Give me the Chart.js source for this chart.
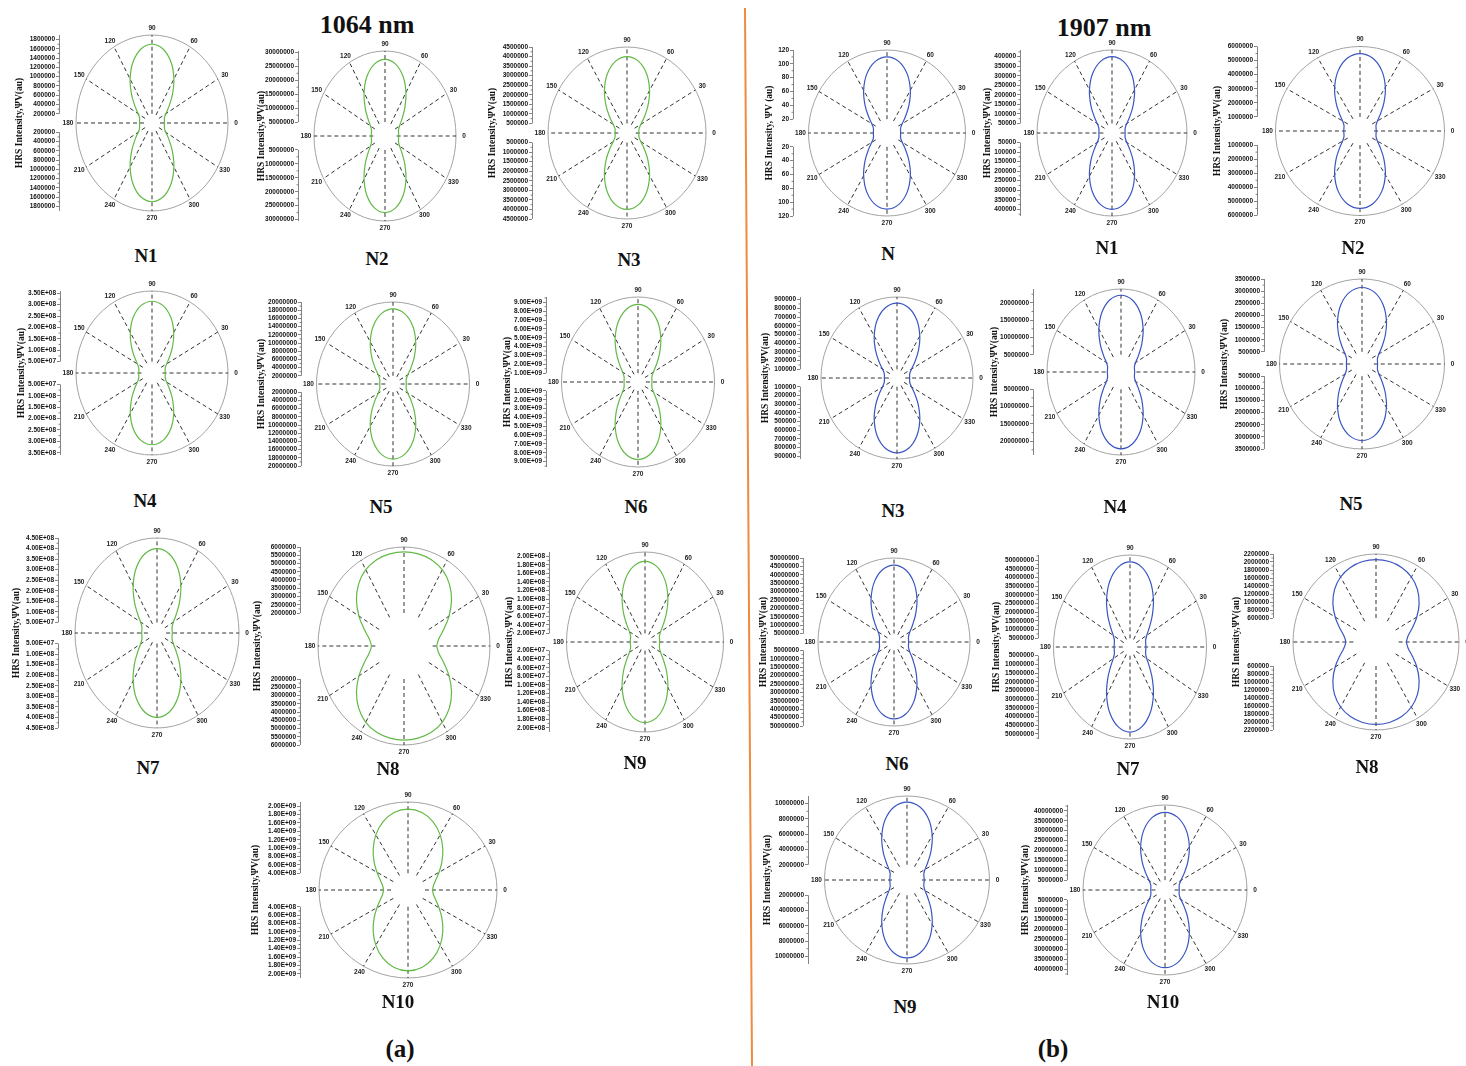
<!DOCTYPE html>
<html>
<head>
<meta charset="utf-8">
<script src="https://cdn.jsdelivr.net/npm/chart.js@4.4.1/dist/chart.umd.min.js"></script>
<style>
  html, body { margin: 0; padding: 0; background: #fff; }
  body { width: 1466px; height: 1066px; position: relative; overflow: hidden; font-family: "Liberation Serif", "Times New Roman", serif; }
  .lbl { position: absolute; transform: translate(-50%, -50%); font-weight: bold; color: #111; white-space: nowrap; line-height: 1; }
  .name { font-size: 19px; }
  .head { font-size: 26px; }
  .part { font-size: 25px; }
  svg { position: absolute; left: 0; top: 0; }
</style>
</head>
<body>
<svg width="1466" height="1066"><line x1="745" y1="8" x2="752" y2="1066" stroke="#ef8a3e" stroke-width="2"/></svg>
<div class="lbl head" style="left:367px;top:25px">1064 nm</div>
<div class="lbl head" style="left:1104px;top:28px">1907 nm</div>
<div class="lbl part" style="left:400px;top:1048px">(a)</div>
<div class="lbl part" style="left:1053px;top:1048px">(b)</div>

<script>
// angles (deg) at which the first-quadrant radii below were read; the patterns are symmetric
const angles = [0, 10, 20, 30, 40, 50, 60, 70, 80, 90];
const spokeAngles = [0, 30, 60, 90, 120, 150, 180, 210, 240, 270, 300, 330];

// 1064 nm
const a_N1 = [3.13e5, 3.14e5, 3.32e5, 4.00e5, 5.50e5, 7.91e5, 10.94e5, 13.95e5, 16.18e5, 17.0e5];
const a_N2 = [5.91e6, 5.92e6, 6.18e6, 7.21e6, 9.53e6, 13.28e6, 18.00e6, 22.72e6, 26.21e6, 27.5e6];
const a_N3 = [6.80e5, 6.86e5, 7.38e5, 9.10e5, 12.76e5, 18.52e5, 25.70e5, 32.81e5, 38.06e5, 40.0e5];
const a_N4 = [0.630e8, 0.634e8, 0.671e8, 0.799e8, 1.076e8, 1.513e8, 2.059e8, 2.601e8, 3.002e8, 3.15e8];
const a_N5 = [3.48e6, 3.50e6, 3.72e6, 4.47e6, 6.10e6, 8.67e6, 11.88e6, 15.07e6, 17.43e6, 18.3e6];
const a_N6 = [1.752e9, 1.763e9, 1.866e9, 2.223e9, 2.992e9, 4.207e9, 5.727e9, 7.234e9, 8.349e9, 8.76e9];
const a_N7 = [0.840e8, 0.843e8, 0.883e8, 1.038e8, 1.380e8, 1.928e8, 2.618e8, 3.304e8, 3.812e8, 4.0e8];
const a_N8 = [2.28e6, 2.46e6, 2.95e6, 3.63e6, 4.33e6, 4.92e6, 5.34e6, 5.57e6, 5.67e6, 5.7e6];
const a_N9 = [0.395e8, 0.395e8, 0.411e8, 0.481e8, 0.639e8, 0.897e8, 1.223e8, 1.549e8, 1.791e8, 1.88e8];
const a_N10 = [0.579e9, 0.609e9, 0.697e9, 0.845e9, 1.044e9, 1.278e9, 1.520e9, 1.732e9, 1.878e9, 1.93e9];
// 1907 nm
const b_N = [20.9, 21.0, 22.3, 26.9, 36.6, 52.1, 71.4, 90.6, 104.8, 110];
const b_N1 = [0.760e5, 0.768e5, 0.821e5, 0.993e5, 1.352e5, 1.914e5, 2.613e5, 3.303e5, 3.812e5, 4.0e5];
const b_N2 = [1.155e6, 1.159e6, 1.214e6, 1.427e6, 1.897e6, 2.651e6, 3.599e6, 4.543e6, 5.242e6, 5.5e6];
const b_N3 = [1.548e5, 1.564e5, 1.680e5, 2.054e5, 2.835e5, 4.059e5, 5.580e5, 7.082e5, 8.192e5, 8.6e5];
const b_N4 = [4.44e6, 4.44e6, 4.64e6, 5.47e6, 7.37e6, 10.45e6, 14.35e6, 18.24e6, 21.13e6, 22.2e6];
const b_N5 = [0.662e6, 0.666e6, 0.702e6, 0.829e6, 1.102e6, 1.533e6, 2.073e6, 2.609e6, 3.004e6, 3.15e6];
const b_N6 = [9.62e6, 9.68e6, 10.21e6, 12.05e6, 16.02e6, 22.30e6, 30.14e6, 37.93e6, 43.68e6, 45.8e6];
const b_N7 = [11.03e6, 11.06e6, 11.54e6, 13.40e6, 17.51e6, 24.10e6, 32.39e6, 40.64e6, 46.75e6, 49.0e6];
const b_N8 = [0.803e6, 0.862e6, 1.023e6, 1.249e6, 1.492e6, 1.711e6, 1.877e6, 1.985e6, 2.043e6, 2.06e6];
const b_N9 = [2.30e6, 2.30e6, 2.39e6, 2.77e6, 3.62e6, 4.99e6, 6.72e6, 8.45e6, 9.73e6, 10.2e6];
const b_N10 = [7.47e6, 7.52e6, 7.98e6, 9.60e6, 13.09e6, 18.62e6, 25.52e6, 32.37e6, 37.43e6, 39.3e6];

const plotNames = ['N1', 'N2', 'N3', 'N4', 'N5', 'N6', 'N7', 'N8', 'N9', 'N10',
  'N', 'N1', 'N2', 'N3', 'N4', 'N5', 'N6', 'N7', 'N8', 'N9', 'N10'];
const laserNm = [1064, 1064, 1064, 1064, 1064, 1064, 1064, 1064, 1064, 1064,
  1907, 1907, 1907, 1907, 1907, 1907, 1907, 1907, 1907, 1907, 1907];
const curves = [a_N1, a_N2, a_N3, a_N4, a_N5, a_N6, a_N7, a_N8, a_N9, a_N10,
  b_N, b_N1, b_N2, b_N3, b_N4, b_N5, b_N6, b_N7, b_N8, b_N9, b_N10];

// radial axis: outer circle, first / step / last tick label
const radialMax = [1.9e6, 30.5e6, 4.5e6, 3.6e8, 20e6, 9.6e9, 4.5e8, 6e6, 2.1e8, 2.1e9,
  120, 4.35e5, 6e6, 9.3e5, 24e6, 3.5e6, 50e6, 53e6, 2.2e6, 11e6, 43e6];
const firstTick = [2e5, 5e6, 5e5, 5e7, 2e6, 1e9, 5e7, 2e6, 2e7, 4e8,
  20, 5e4, 1e6, 1e5, 5e6, 5e5, 5e6, 5e6, 6e5, 2e6, 5e6];
const tickStep = [2e5, 5e6, 5e5, 5e7, 2e6, 1e9, 5e7, 5e5, 2e7, 2e8,
  20, 5e4, 1e6, 1e5, 5e6, 5e5, 5e6, 5e6, 2e5, 2e6, 5e6];
const lastTick = [1.8e6, 30e6, 4.5e6, 3.5e8, 20e6, 9e9, 4.5e8, 6e6, 2e8, 2e9,
  120, 4e5, 6e6, 9e5, 20e6, 3.5e6, 50e6, 50e6, 2.2e6, 10e6, 40e6];
const sciTicks = [false, false, false, true, false, true, true, false, true, true,
  false, false, false, false, false, false, false, false, false, false, false];

// page placement: centre x, centre y, half width, half height, axis x, axis title x, name x, name y
const frames = [
  [152, 123, 76, 88, 59, 20, 146, 255],
  [385, 136, 71, 85, 298, 262, 377, 258],
  [627, 133, 79, 86, 532, 493, 629, 259],
  [152, 373, 76, 82, 60, 22, 145, 500],
  [393, 384, 76.5, 82, 301, 262, 381, 506],
  [638, 382, 76.5, 85, 546, 508, 636, 506],
  [157, 633, 82, 95, 58, 17, 148, 767],
  [404, 646, 86, 99, 300, 258, 388, 768],
  [645, 642, 78.5, 90, 549, 510, 635, 762],
  [408, 890, 89, 88, 300, 256, 398, 1001],
  [887, 133, 78.5, 83, 793, 770, 888, 253],
  [1112, 133, 75, 83, 1020, 988, 1107, 247],
  [1360, 131, 84.5, 84.5, 1257, 1218, 1353, 247],
  [897, 378, 76, 81, 800, 766, 893, 510],
  [1121, 372, 74, 83, 1033, 995, 1115, 506],
  [1362, 364, 82.5, 85, 1264, 1225, 1351, 503],
  [894, 642, 76, 84, 803, 764, 897, 763],
  [1130, 647, 76.5, 92, 1038, 997, 1128, 768],
  [1376, 642, 83, 88, 1273, 1237, 1367, 766],
  [907, 880, 82.5, 84, 808, 768, 905, 1006],
  [1165, 890, 82, 85, 1067, 1026, 1163, 1001]
];

const lineColor = { 1064: '#62b946', 1907: '#3b55c0' };

function tickText(v, sci) {
  if (!sci) return String(Math.round(v));
  const [m, e] = v.toExponential(2).split('e');
  const n = parseInt(e, 10);
  return m + 'E' + (n < 0 ? '-' : '+') + String(Math.abs(n)).padStart(2, '0');
}

// circle, dashed spokes, angle labels and the split radial axis line
const polarFrame = {
  id: 'polarFrame',
  beforeDatasetsDraw(chart, args, opts) {
    const { ctx } = chart;
    const xs = chart.scales.x, ys = chart.scales.y;
    const cx = xs.getPixelForValue(0), cy = ys.getPixelForValue(0);
    const rh = xs.getPixelForValue(opts.R) - cx, rv = cy - ys.getPixelForValue(opts.R);
    const h0 = xs.getPixelForValue(opts.r0) - cx, v0 = cy - ys.getPixelForValue(opts.r0);
    ctx.save();
    ctx.strokeStyle = '#a3a3a3';
    ctx.lineWidth = 1;
    ctx.beginPath();
    ctx.ellipse(cx, cy, rh, rv, 0, 0, 2 * Math.PI);
    ctx.stroke();

    ctx.strokeStyle = '#333';
    ctx.setLineDash([4, 3]);
    spokeAngles.forEach(a => {
      const c = Math.cos(a * Math.PI / 180), s = Math.sin(a * Math.PI / 180);
      ctx.beginPath();
      ctx.moveTo(cx + h0 * c, cy - v0 * s);
      ctx.lineTo(cx + rh * c, cy - rv * s);
      ctx.stroke();
    });
    ctx.setLineDash([]);

    ctx.fillStyle = '#222';
    ctx.font = 'bold 6.5px "Liberation Sans", Arial, sans-serif';
    ctx.textAlign = 'center';
    ctx.textBaseline = 'middle';
    spokeAngles.forEach(a => {
      const c = Math.cos(a * Math.PI / 180), s = Math.sin(a * Math.PI / 180);
      ctx.fillText(String(a), cx + (rh + 8) * c, cy - (rv + 7) * s);
    });

    // radial axis on the left, broken around the centre
    const ax = chart.chartArea.left + 0.5;
    ctx.strokeStyle = '#666';
    ctx.lineWidth = 0.8;
    ctx.beginPath();
    ctx.moveTo(ax, ys.getPixelForValue(opts.r0));
    ctx.lineTo(ax, ys.getPixelForValue(opts.R));
    ctx.moveTo(ax, ys.getPixelForValue(-opts.r0));
    ctx.lineTo(ax, ys.getPixelForValue(-opts.R));
    for (let v = opts.r0 + opts.step / 2; v < opts.R; v += opts.step) {
      [v, -v].forEach(w => {
        const y = ys.getPixelForValue(w);
        ctx.moveTo(ax, y);
        ctx.lineTo(ax - 2, y);
      });
    }
    ctx.stroke();
    ctx.restore();
  }
};

plotNames.forEach((name, i) => {
  const [cx, cy, rh, rv, axX, tX, nX, nY] = frames[i];
  const R = radialMax[i], r0 = firstTick[i], step = tickStep[i], last = lastTick[i];
  const sci = sciTicks[i];

  const left = Math.round(tX - 5.7);
  const top = Math.round(cy - rv - 16);
  const width = Math.round(cx + rh + 24) - left;
  const height = Math.round(cy + rv + 16) - top;
  const axisW = Math.round(axX) - left;
  const axL = left + axisW;

  const canvas = document.createElement('canvas');
  canvas.width = width;
  canvas.height = height;
  canvas.style.cssText = `position:absolute;left:${left}px;top:${top}px;width:${width}px;height:${height}px`;
  document.body.appendChild(canvas);

  const q = curves[i];
  const pts = [];
  for (let a = 0; a <= 360; a += 10) {
    const m = a % 180;
    const r = q[angles.indexOf(m <= 90 ? m : 180 - m)];
    const t = a * Math.PI / 180;
    pts.push({ x: r * Math.cos(t), y: r * Math.sin(t) });
  }

  const tickVals = [];
  const n = Math.round((last - r0) / step);
  for (let k = 0; k <= n; k++) {
    const v = Number((r0 + k * step).toPrecision(8));
    tickVals.push(v, -v);
  }
  tickVals.sort((p, s) => p - s);

  const title = (laserNm[i] === 1907 && name === 'N') ? 'HRS Intensity, \u03A8V (au)' : 'HRS Intensity,\u03A8V(au)';

  new Chart(canvas, {
    type: 'scatter',
    data: {
      datasets: [{
        data: pts,
        showLine: true,
        borderColor: lineColor[laserNm[i]],
        borderWidth: 1.2,
        pointRadius: 0,
        tension: 0.4,
        fill: false
      }]
    },
    options: {
      responsive: false,
      animation: false,
      events: [],
      layout: {
        padding: {
          left: 0,
          top: cy - rv - top,
          bottom: height - (cy + rv - top),
          right: width - (cx + rh - left)
        }
      },
      plugins: {
        legend: { display: false },
        tooltip: { enabled: false },
        polarFrame: { R: R, r0: r0, step: step }
      },
      scales: {
        x: { type: 'linear', display: false, min: -R * (cx - axL) / rh, max: R },
        y: {
          type: 'linear',
          position: 'left',
          min: -R,
          max: R,
          bounds: 'data',
          afterFit: s => { s.width = axisW; },
          afterBuildTicks: s => { s.ticks = tickVals.map(v => ({ value: v })); },
          ticks: {
            autoSkip: false,
            padding: 1,
            color: '#111',
            font: { family: '"Liberation Sans", Arial, sans-serif', weight: 'bold', size: 6.5 },
            callback: v => tickText(Math.abs(v), sci)
          },
          grid: { drawOnChartArea: false, drawTicks: true, tickLength: 3, color: '#666', lineWidth: 0.8 },
          border: { display: false },
          title: {
            display: true,
            text: title,
            color: '#111',
            padding: 0,
            font: { family: '"Liberation Serif", "Times New Roman", serif', weight: 'bold', size: 9.5 }
          }
        }
      }
    },
    plugins: [polarFrame]
  });

  const lbl = document.createElement('div');
  lbl.className = 'lbl name';
  lbl.style.left = nX + 'px';
  lbl.style.top = nY + 'px';
  lbl.textContent = name;
  document.body.appendChild(lbl);
});
</script>
</body>
</html>
